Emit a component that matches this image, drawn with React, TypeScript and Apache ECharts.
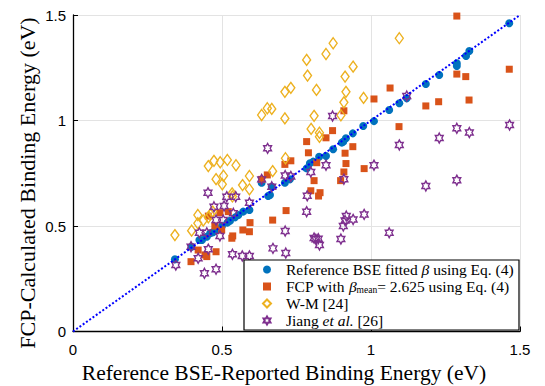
import React, { useEffect, useRef } from "react";
import * as echarts from "echarts";

// Reference BSE fitted beta (blue dots)
const refX = [1.464, 1.330, 1.319, 1.288, 1.288, 1.229, 1.184, 1.120, 1.095, 1.061, 1.010, 0.974, 0.939, 0.916, 0.907, 0.902, 0.873, 0.849, 0.826, 0.806, 0.795, 0.784, 0.728, 0.711, 0.667, 0.661, 0.655, 0.633, 0.592, 0.571, 0.555, 0.544, 0.527, 0.518, 0.500, 0.480, 0.460, 0.449, 0.424, 0.398, 0.342, 0.433, 0.470];
const refY = [1.461, 1.329, 1.306, 1.271, 1.258, 1.216, 1.173, 1.105, 1.082, 1.050, 0.997, 0.974, 0.939, 0.916, 0.900, 0.895, 0.864, 0.832, 0.828, 0.805, 0.797, 0.773, 0.721, 0.705, 0.686, 0.647, 0.642, 0.705, 0.576, 0.568, 0.552, 0.541, 0.525, 0.516, 0.500, 0.481, 0.465, 0.449, 0.434, 0.402, 0.342, 0.434, 0.470];

// FCP with beta_mean = 2.625 (orange squares)
const fcpX = [1.288, 1.464, 1.288, 1.318, 1.329, 1.227, 1.184, 1.064, 1.010, 1.094, 0.909, 0.871, 0.849, 0.784, 0.939, 0.913, 0.790, 0.731, 0.711, 0.916, 0.977, 0.909, 0.809, 0.898, 0.818, 0.798, 0.829, 0.824, 0.652, 0.633, 0.715, 0.670, 0.594, 0.570, 0.592, 0.536, 0.533, 0.493, 0.521, 0.454, 0.476, 0.499, 0.480, 0.420, 0.443, 0.449, 0.396];
const fcpY = [1.495, 1.243, 1.220, 1.208, 1.097, 1.089, 1.069, 1.154, 1.102, 0.971, 1.046, 0.952, 0.918, 0.900, 0.876, 0.845, 0.847, 0.809, 0.792, 0.796, 0.772, 0.756, 0.715, 0.715, 0.800, 0.667, 0.658, 0.642, 0.742, 0.721, 0.573, 0.528, 0.516, 0.481, 0.473, 0.453, 0.442, 0.563, 0.568, 0.547, 0.500, 0.481, 0.378, 0.386, 0.363, 0.355, 0.331];

// W-M [24] (yellow diamonds)
const wmX = [1.095, 0.873, 0.849, 0.784, 0.787, 0.940, 0.913, 0.731, 0.711, 0.817, 0.916, 0.975, 0.909, 0.633, 0.652, 0.667, 0.711, 0.809, 0.899, 0.799, 0.827, 0.827, 0.713, 0.670, 0.454, 0.473, 0.494, 0.518, 0.547, 0.480, 0.505, 0.501, 0.592, 0.569, 0.592, 0.534, 0.535, 0.419, 0.437, 0.454, 0.461, 0.419, 0.469, 0.398, 0.342];
const wmY = [1.390, 1.366, 1.315, 1.287, 1.213, 1.255, 1.208, 1.155, 1.136, 1.145, 1.136, 1.107, 1.086, 1.026, 1.058, 1.055, 1.010, 1.022, 1.025, 0.960, 0.942, 0.923, 0.821, 0.760, 0.784, 0.809, 0.802, 0.813, 0.788, 0.722, 0.738, 0.698, 0.737, 0.694, 0.674, 0.655, 0.640, 0.552, 0.526, 0.541, 0.555, 0.513, 0.568, 0.478, 0.457];

// Jiang et al. [26] (purple hexagrams)
const jiangX = [0.871, 1.288, 1.330, 1.465, 1.229, 1.095, 1.010, 0.849, 0.798, 0.909, 1.184, 1.288, 0.786, 0.784, 0.917, 0.913, 0.940, 0.907, 0.977, 1.061, 0.809, 0.823, 0.815, 0.827, 0.899, 1.120, 0.653, 0.633, 0.667, 0.712, 0.731, 0.712, 0.671, 0.714, 0.592, 0.538, 0.507, 0.516, 0.546, 0.473, 0.453, 0.480, 0.504, 0.493, 0.424, 0.449, 0.454, 0.396, 0.420, 0.345, 0.441, 0.480, 0.535, 0.568, 0.592];
const jiangY = [1.021, 0.963, 0.943, 0.979, 0.917, 0.884, 0.788, 0.788, 0.756, 0.722, 0.690, 0.717, 0.643, 0.568, 0.547, 0.526, 0.531, 0.500, 0.555, 0.468, 0.443, 0.440, 0.437, 0.410, 0.438, 1.116, 0.868, 0.721, 0.686, 0.739, 0.735, 0.476, 0.394, 0.372, 0.610, 0.560, 0.595, 0.639, 0.639, 0.591, 0.658, 0.528, 0.528, 0.453, 0.468, 0.468, 0.390, 0.402, 0.347, 0.315, 0.276, 0.295, 0.366, 0.358, 0.358];

// Identity reference line
const lineX = [0, 1.5];
const lineY = [0, 1.5];

const ticks = [0, 0.5, 1, 1.5];

const zip = (xs: number[], ys: number[]) => xs.map((x, i) => [x, ys[i]]);

const hexagram =
  "path://M0,-10L2.887,-5L8.66,-5L5.774,0L8.66,5L2.887,5L0,10L-2.887,5L-8.66,5L-5.774,0L-8.66,-5L-2.887,-5Z";

const NAMES = ["ref", "fcp", "wm", "jiang"];

if (typeof document !== "undefined") {
  document.body.style.margin = "0";
}

export default function App() {
  const ref = useRef<HTMLDivElement>(null);
  useEffect(() => {
    if (!ref.current) return;
    document.body.style.margin = "0";
    const chart = echarts.init(ref.current, undefined, { renderer: "svg" });
    const serif = "'Liberation Serif', 'Times New Roman', serif";
    const sans = "'Liberation Sans', Arial, sans-serif";
    const axisCommon = {
      type: "value" as const,
      min: ticks[0],
      max: ticks[ticks.length - 1],
      interval: 0.5,
      axisLine: { show: true, onZero: false, lineStyle: { color: "#000", width: 1.3 } },
      axisTick: { show: true, inside: true, length: 5, lineStyle: { color: "#000", width: 1 } },
      splitLine: { show: true, lineStyle: { color: "#e3e3e3", width: 1 } },
      axisLabel: { color: "#000", fontFamily: sans, fontSize: 15 },
    };
    const lg = { fontFamily: serif, fontSize: 15.5, color: "#000", lineHeight: 17 };
    chart.setOption({
      animation: false,
      backgroundColor: "#fff",
      grid: { left: 73, right: 25, top: 15, bottom: 54.5, containLabel: false },
      xAxis: { ...axisCommon, axisLabel: { ...axisCommon.axisLabel, margin: 10 } },
      yAxis: { ...axisCommon, axisLabel: { ...axisCommon.axisLabel, margin: 7 } },
      legend: {
        data: NAMES,
        orient: "vertical",
        left: 262,
        top: 261,
        padding: 0,
        itemGap: 0,
        itemWidth: 8,
        itemHeight: 8,
        z: 10,
        backgroundColor: "transparent",
        formatter: (name: string) => {
          if (name === "ref") return "{n|Reference BSE fitted }{i|β}{n| using Eq. (4)}";
          if (name === "fcp") return "{n|FCP with }{i|β}{s|mean}{n|= 2.625 using Eq. (4)}";
          if (name === "wm") return "{n|W-M [24]}";
          return "{n|Jiang }{i|et al.}{n| [26]}";
        },
        textStyle: {
          ...lg,
          padding: [0, 0, 0, 10],
          rich: {
            n: { ...lg },
            i: { ...lg, fontStyle: "italic" },
            s: { fontFamily: serif, fontSize: 9.5, color: "#000", lineHeight: 17, verticalAlign: "bottom", padding: [7, 0, 0, 0] },
          },
        },
      },
      graphic: [
        {
          type: "rect",
          z: 5,
          shape: { x: 244, y: 260, width: 275, height: 70 },
          style: { fill: "#fff", stroke: "#000", lineWidth: 1.2 },
        },
        {
          type: "text",
          x: 284,
          y: 372.5,
          style: {
            text: "Reference BSE-Reported Binding Energy (eV)",
            fontFamily: serif,
            fontSize: 21.5,
            fill: "#000",
            align: "center",
            verticalAlign: "middle",
          },
        },
        {
          type: "text",
          x: 27,
          y: 183,
          rotation: Math.PI / 2,
          style: {
            text: "FCP-Calculated Binding Energy (eV)",
            fontFamily: serif,
            fontSize: 22,
            fill: "#000",
            align: "center",
            verticalAlign: "middle",
          },
        },
      ],
      series: [
        {
          type: "line",
          data: zip(lineX, lineY),
          showSymbol: false,
          symbol: "none",
          z: 3,
          lineStyle: { color: "#0000ff", width: 2, type: [2, 2] },
          silent: true,
        },
        {
          name: "ref",
          type: "scatter",
          data: zip(refX, refY),
          symbol: "circle",
          symbolSize: 8,
          z: 2,
          itemStyle: { color: "#0072BD", opacity: 1 },
        },
        {
          name: "fcp",
          type: "scatter",
          data: zip(fcpX, fcpY),
          symbol: "rect",
          symbolSize: 7,
          z: 2,
          itemStyle: { color: "#D95319", opacity: 1 },
        },
        {
          name: "wm",
          type: "scatter",
          data: zip(wmX, wmY),
          symbol: "diamond",
          symbolSize: [8, 11],
          z: 2,
          itemStyle: { color: "rgba(255,255,255,0)", borderColor: "#EDB120", borderWidth: 1.4, opacity: 1 },
        },
        {
          name: "jiang",
          type: "scatter",
          data: zip(jiangX, jiangY),
          symbol: hexagram,
          symbolKeepAspect: true,
          symbolSize: [9, 10],
          z: 2,
          itemStyle: { color: "rgba(255,255,255,0)", borderColor: "#7E2F8E", borderWidth: 1.4, opacity: 1 },
        },
      ],
    });
    return () => chart.dispose();
  }, []);
  return <div ref={ref} style={{ width: 545, height: 386 }} />;
}
